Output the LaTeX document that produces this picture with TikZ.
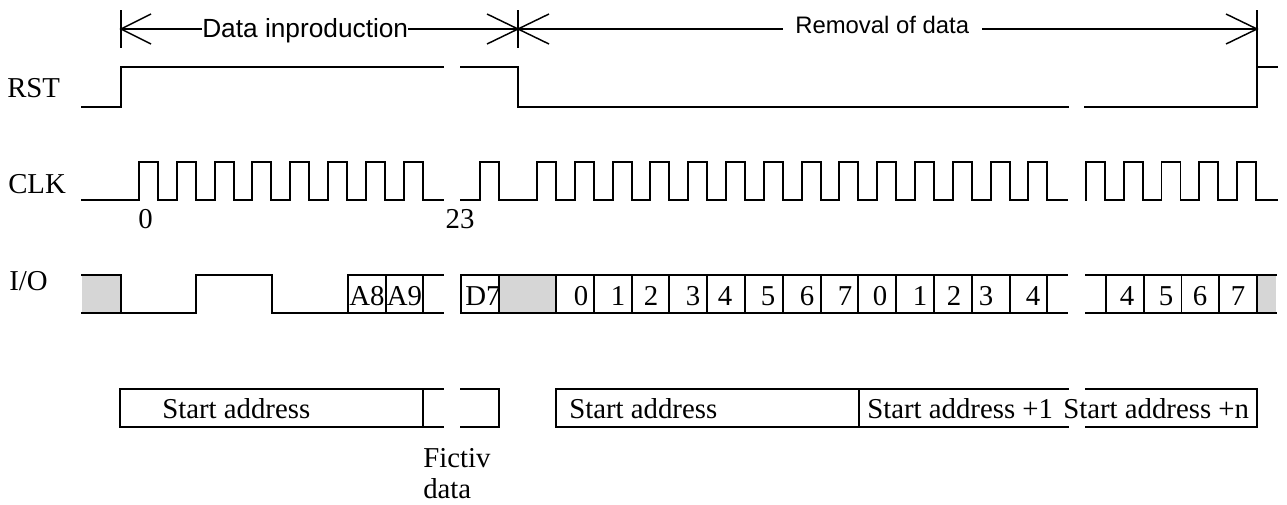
\documentclass[tikz,border=0pt]{standalone}
\usepackage{fontspec}
\setmainfont{Liberation Serif}
\newfontfamily\arialf{Liberation Sans}
\definecolor{iogray}{RGB}{214,214,214}
\begin{document}
\begin{tikzpicture}[x=0.75pt,y=-0.75pt,
  sig/.style={line width=1.4pt, line join=miter, line cap=rect},
  dim/.style={line width=1.1pt},
  lbl/.style={inner sep=0pt, anchor=base west, font=\fontsize{21.6}{26}\selectfont},
  dig/.style={inner sep=0pt, anchor=base, font=\fontsize{21.6}{26}\selectfont},
  dimtxtA/.style={inner sep=0pt, anchor=base west, font=\arialf\fontsize{19.7}{24}\selectfont},
  dimtxtB/.style={inner sep=0pt, anchor=base west, font=\arialf\fontsize{17.9}{22}\selectfont},
  grayfill/.style={fill=iogray, draw=none}]
\useasboundingbox (0,0) rectangle (1287,504);

% signal names
\node[lbl] (rst) at (7,97) {RST};
\node[lbl] (clk) at (8,193) {CLK};
\node[lbl] (io) at (9,290) {I/O};

% dimension arrows
\coordinate (b1) at (121,29);
\coordinate (b2) at (518,29);
\coordinate (b3) at (1257,29);
\draw[dim] (121,10) -- (121,48);
\draw[dim] (518,10) -- (518,48);
\draw[dim] (1257,10) -- (1257,67);
\node[dimtxtA] (dip) at (202,37) {Data inproduction};
\node[dimtxtB] (rem) at (795,33) {Removal of data};
\coordinate (dipL) at (202,29);
\coordinate (dipR) at (408,29);
\coordinate (remL) at (783,29);
\coordinate (remR) at (982,29);
\draw[dim] (b1) -- (dipL);
\draw[dim] (dipR) -- (b2);
\draw[dim] (b2) -- (remL);
\draw[dim] (remR) -- (b3);
\draw[dim] (151,14) -- (b1) -- (151,44);
\draw[dim] (487,14) -- (b2) -- (487,44);
\draw[dim] (549,14) -- (b2) -- (549,44);
\draw[dim] (1226,14) -- (b3) -- (1226,44);

% RST
\draw[sig] (82,107) -- (121,107) -- (121,67) -- (443,67);
\draw[sig] (461,67) -- (518,67) -- (518,107) -- (1068,107);
\draw[sig] (1085,107) -- (1257,107) -- (1257,67) -- (1277,67);

% CLK
\draw[sig] (82,200) -- (139,200)
  foreach \k in {0,...,7} { -- ({139+37.8*\k},200) -- ({139+37.8*\k},162) -- ({158+37.8*\k},162) -- ({158+37.8*\k},200) }
  -- (443,200);
\draw[sig] (461,200) -- (480,200) -- (480,162) -- (499,162) -- (499,200)
  foreach \k in {0,...,13} { -- ({537+37.8*\k},200) -- ({537+37.8*\k},162) -- ({556+37.8*\k},162) -- ({556+37.8*\k},200) }
  -- (1067,200);
\draw[sig] (1086,200)
  foreach \k in {0,...,4} { -- ({1086+37.75*\k},200) -- ({1086+37.75*\k},162) -- ({1105+37.75*\k},162) -- ({1105+37.75*\k},200) }
  -- (1277,200);
\node[dig] (n0) at (145.5,228) {0};
\node[dig] (n23) at (460,228) {23};

% I/O
\path[grayfill] (82,275) rectangle (121,313);
\path[grayfill] (499,275) rectangle (556,313);
\path[grayfill] (1257,275) rectangle (1276,313);
\draw[sig] (82,275) -- (121,275) -- (121,313);
\draw[sig] (82,313) -- (196,313) -- (196,275) -- (272,275) -- (272,313) -- (348,313) -- (443,313);
\draw[sig] (348,313) -- (348,275) -- (443,275);
\draw[sig] (386,275) -- (386,313);
\draw[sig] (423,275) -- (423,313);
\draw[sig] (461,275) -- (1067,275);
\draw[sig] (461,313) -- (1067,313);
\draw[sig] (461,275) -- (461,313);
\draw[line width=2.2pt] (499,275) rectangle (556,313);
\foreach \k in {1,...,13} { \draw[sig] ({556+37.8*\k},275) -- ({556+37.8*\k},313); }
\draw[sig] (1086,275) -- (1276,275);
\draw[sig] (1086,313) -- (1276,313);
\foreach \k in {0,...,4} { \draw[sig] ({1106+37.75*\k},275) -- ({1106+37.75*\k},313); }

\node[dig] (a8) at (367,305) {A8};
\node[dig] (a9) at (404.5,305) {A9};
\node[dig] (d7) at (483,305) {D7};
\node[dig] (c0) at (581,305) {0};
\node[dig] (c1) at (618,305) {1};
\node[dig] (c2) at (651,305) {2};
\node[dig] (c3) at (693,305) {3};
\node[dig] (c4) at (725,305) {4};
\node[dig] (c5) at (768,305) {5};
\node[dig] (c6) at (807,305) {6};
\node[dig] (c7) at (845,305) {7};
\node[dig] (e0) at (880,305) {0};
\node[dig] (e1) at (920,305) {1};
\node[dig] (e2) at (954,305) {2};
\node[dig] (e3) at (986,305) {3};
\node[dig] (e4) at (1033,305) {4};
\node[dig] (f4) at (1127,305) {4};
\node[dig] (f5) at (1166,305) {5};
\node[dig] (f6) at (1200,305) {6};
\node[dig] (f7) at (1238,305) {7};

% address boxes
\draw[sig] (443,389) -- (120,389) -- (120,427) -- (443,427);
\draw[sig] (423,389) -- (423,427);
\draw[sig] (461,389) -- (499,389) -- (499,427) -- (461,427);
\draw[sig] (1068,389) -- (556,389) -- (556,427) -- (1068,427);
\draw[sig] (859,389) -- (859,427);
\draw[sig] (1086,389) -- (1257,389) -- (1257,427) -- (1086,427);
\node[lbl] (sa1) at (162,418) {Start address};
\node[lbl] (sa2) at (569,418) {Start address};
\node[lbl] (sa3) at (867,418) {Start address +1};
\node[lbl] (sa4) at (1063,418) {Start address +n};
\node[lbl] (fic) at (423,467) {Fictiv};
\node[lbl] (fdat) at (423,498) {data};
\end{tikzpicture}
\end{document}
